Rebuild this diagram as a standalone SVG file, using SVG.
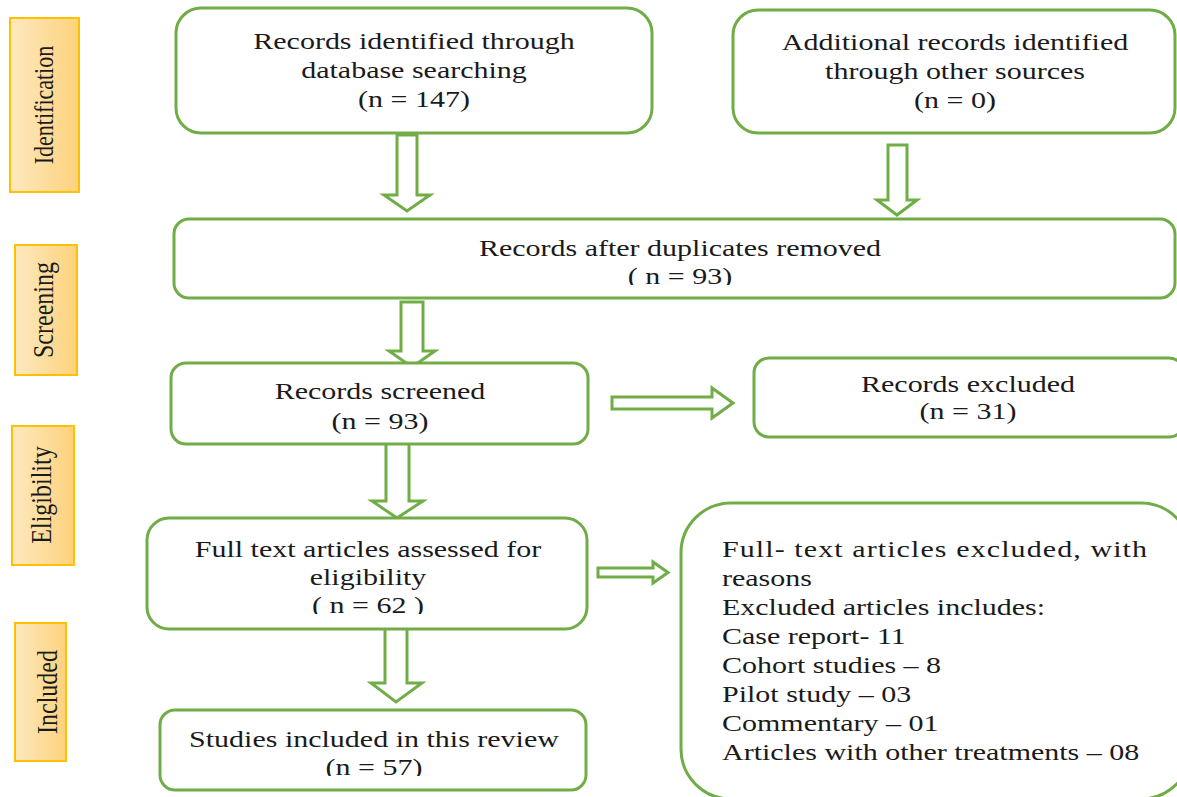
<svg xmlns="http://www.w3.org/2000/svg" width="1177" height="797" viewBox="0 0 1177 797">
<style>
.box{fill:#fff;stroke:#70ad47;stroke-width:3}
.arr{fill:#fff;stroke:#70ad47;stroke-width:3;stroke-linejoin:miter}
.stage{fill:url(#og);stroke:#ffc000;stroke-width:2}
.t{font-family:"Liberation Serif","Times New Roman",serif;font-size:24px;fill:#1a1a1a}
.c{text-anchor:middle}
</style>
<defs>
<linearGradient id="og" x1="0" y1="0" x2="1" y2="0">
<stop offset="0" stop-color="#fde9c0"/>
<stop offset="1" stop-color="#fdd27c"/>
</linearGradient>
<clipPath id="cl3"><rect x="0" y="0" width="1177" height="285"/></clipPath>
<clipPath id="cl6"><rect x="0" y="0" width="1177" height="614"/></clipPath>
<clipPath id="cl7"><rect x="0" y="0" width="1177" height="776"/></clipPath>
</defs>
<rect width="1177" height="797" fill="#fff"/>

<g id="stage-identification">
<rect class="stage" x="10" y="18" width="69" height="174"/>
<text class="t c" style="font-size:22px" transform="translate(53,105) rotate(-90) scale(1,1.25)">Identification</text>
</g>
<g id="stage-screening">
<rect class="stage" x="15" y="245" width="62" height="130"/>
<text class="t c" transform="translate(53,310) rotate(-90) scale(1,1.25)">Screening</text>
</g>
<g id="stage-eligibility">
<rect class="stage" x="12" y="426" width="62" height="139"/>
<text class="t c" transform="translate(51,495) rotate(-90) scale(1,1.25)">Eligibility</text>
</g>
<g id="stage-included">
<rect class="stage" x="15" y="623" width="51" height="138"/>
<text class="t c" transform="translate(57,692) rotate(-90) scale(1,1.25)">Included</text>
</g>

<g id="connectors">
<polygon class="arr" points="397,135 417,135 417,195 430,195 407,211 384,195 397,195"/>
<polygon class="arr" points="888,145 907,145 907,200 917,200 897,215 877,200 888,200"/>
<polygon class="arr" points="401,302 423,302 423,351 435,351 412,367 389,351 401,351"/>
<polygon class="arr" points="386,443 409,443 409,501 423,501 397,518 372,501 386,501"/>
<polygon class="arr" points="385,628 407,628 407,683 422,683 396,702 371,683 385,683"/>
<polygon class="arr" points="612,397 712,397 712,388 733,403 712,418 712,409 612,409"/>
<polygon class="arr" points="598,568 653,568 653,562 668,572.5 653,583 653,577 598,577"/>
</g>

<g id="node-database">
<rect class="box" x="176" y="8" width="476" height="125" rx="25"/>
<text class="t c" transform="translate(414,49) scale(1.25,1)"><tspan x="0">Records identified through</tspan><tspan x="0" dy="29">database searching</tspan><tspan x="0" dy="29">(n = 147)</tspan></text>
</g>
<g id="node-other">
<rect class="box" x="733" y="10" width="442" height="123" rx="25"/>
<text class="t c" transform="translate(955,50) scale(1.25,1)"><tspan x="0">Additional records identified</tspan><tspan x="0" dy="29">through other sources</tspan><tspan x="0" dy="29">(n = 0)</tspan></text>
</g>
<g id="node-duplicates">
<rect class="box" x="174" y="219" width="1001" height="79" rx="15"/>
<g clip-path="url(#cl3)">
<text class="t c" transform="translate(680,256) scale(1.25,1)"><tspan x="0">Records after duplicates removed</tspan><tspan x="0" dy="28">( n = 93)</tspan></text>
</g>
</g>
<g id="node-screened">
<rect class="box" x="171" y="363" width="417" height="81" rx="15"/>
<text class="t c" transform="translate(380,399) scale(1.25,1)"><tspan x="0">Records screened</tspan><tspan x="0" dy="30">(n = 93)</tspan></text>
</g>
<g id="node-excluded">
<rect class="box" x="754" y="358" width="430" height="79" rx="15"/>
<text class="t c" transform="translate(968,392) scale(1.25,1)"><tspan x="0">Records excluded</tspan><tspan x="0" dy="27">(n = 31)</tspan></text>
</g>
<g id="node-fulltext">
<rect class="box" x="147" y="518" width="440" height="111" rx="22"/>
<g clip-path="url(#cl6)">
<text class="t c" transform="translate(368,557) scale(1.25,1)"><tspan x="0">Full text articles assessed for</tspan><tspan x="0" dy="28">eligibility</tspan><tspan x="0" dy="28">( n = 62 )</tspan></text>
</g>
</g>
<g id="node-included">
<rect class="box" x="160" y="710" width="426" height="80" rx="15"/>
<g clip-path="url(#cl7)">
<text class="t c" transform="translate(374,747) scale(1.25,1)"><tspan x="0">Studies included in this review</tspan><tspan x="0" dy="28">(n = 57)</tspan></text>
</g>
</g>
<g id="node-reasons">
<rect class="box" x="681" y="503" width="510" height="296" rx="50"/>
<text class="t" transform="translate(722,557) scale(1.25,1)"><tspan x="0" textLength="340" lengthAdjust="spacing">Full- text articles excluded, with</tspan><tspan x="0" dy="29">reasons</tspan><tspan x="0" dy="29">Excluded articles includes:</tspan><tspan x="0" dy="29">Case report- 11</tspan><tspan x="0" dy="29">Cohort studies – 8</tspan><tspan x="0" dy="29">Pilot study – 03</tspan><tspan x="0" dy="29">Commentary – 01</tspan><tspan x="0" dy="29">Articles with other treatments – 08</tspan></text>
</g>
</svg>
